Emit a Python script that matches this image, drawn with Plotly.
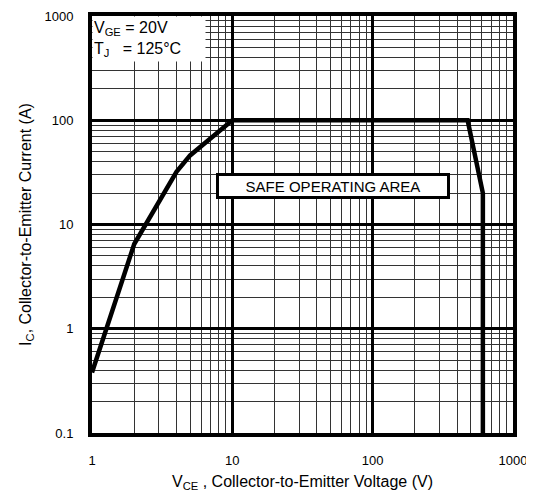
import math
import plotly.graph_objects as go

# Safe operating area boundary
vce = [1, 2, 4, 5, 10, 475, 610, 610]
ic = [0.38, 6.5, 32, 46, 100, 100, 20, 0.1]

x_ticks = [1, 10, 100, 1000]
x_labels = ["1", "10", "100", "1000"]
y_ticks = [0.1, 1, 10, 100, 1000]
y_labels = ["0.1", "1", "10", "100", "1000"]

label_pos = (52, 23.5)

FONT = "Liberation Sans, Arial, sans-serif"

fig = go.Figure()
fig.add_trace(go.Scatter(x=vce, y=ic, mode="lines",
                         line=dict(color="black", width=4.5),
                         showlegend=False, hoverinfo="skip"))

# log axes: annotation positions are given in log10 units
fig.add_annotation(x=math.log10(label_pos[0]), y=math.log10(label_pos[1]),
                   xref="x", yref="y",
                   text="SAFE OPERATING AREA", showarrow=False,
                   font=dict(family=FONT, size=15, color="black"),
                   bgcolor="white", bordercolor="black", borderwidth=3,
                   width=226, height=18, borderpad=1)

fig.add_annotation(x=0.0, y=1.0, xref="paper", yref="paper",
                   xanchor="left", yanchor="top", align="left",
                   text="V<sub>GE</sub> = 20V<br>T<sub>J</sub>   = 125°C",
                   showarrow=False,
                   font=dict(family=FONT, size=16, color="black"),
                   bgcolor="white", width=110, height=42, borderpad=1)

axis_common = dict(
    type="log", showline=True, linecolor="black", linewidth=4, mirror=True,
    showgrid=True, gridcolor="black", gridwidth=2.5, zeroline=False,
    ticks="", tickfont=dict(family=FONT, size=13, color="black"),
    minor=dict(dtick="D1", showgrid=True, gridcolor="#333333", gridwidth=1, ticks=""),
    automargin=False, ticklabelstandoff=12, ticklabeloverflow="allow",
)

fig.update_xaxes(range=[0, 3], tickvals=x_ticks, ticktext=x_labels,
                 title=dict(text="V<sub>CE</sub> , Collector-to-Emitter Voltage (V)",
                            font=dict(family=FONT, size=16, color="black"), standoff=10),
                 **axis_common)
fig.update_yaxes(range=[-1, 3], tickvals=y_ticks, ticktext=y_labels,
                 title=dict(text="I<sub>C</sub>, Collector-to-Emitter Current (A)",
                            font=dict(family=FONT, size=16, color="black"), standoff=10),
                 **axis_common)

# page body has an 8px margin; size the figure so the plot area lands where the reference has it
fig.update_layout(width=524, height=484,
                  margin=dict(l=84, r=19, t=8, b=59),
                  plot_bgcolor="white", paper_bgcolor="white",
                  font=dict(family=FONT, color="black"))

fig.write_html("out.html")
